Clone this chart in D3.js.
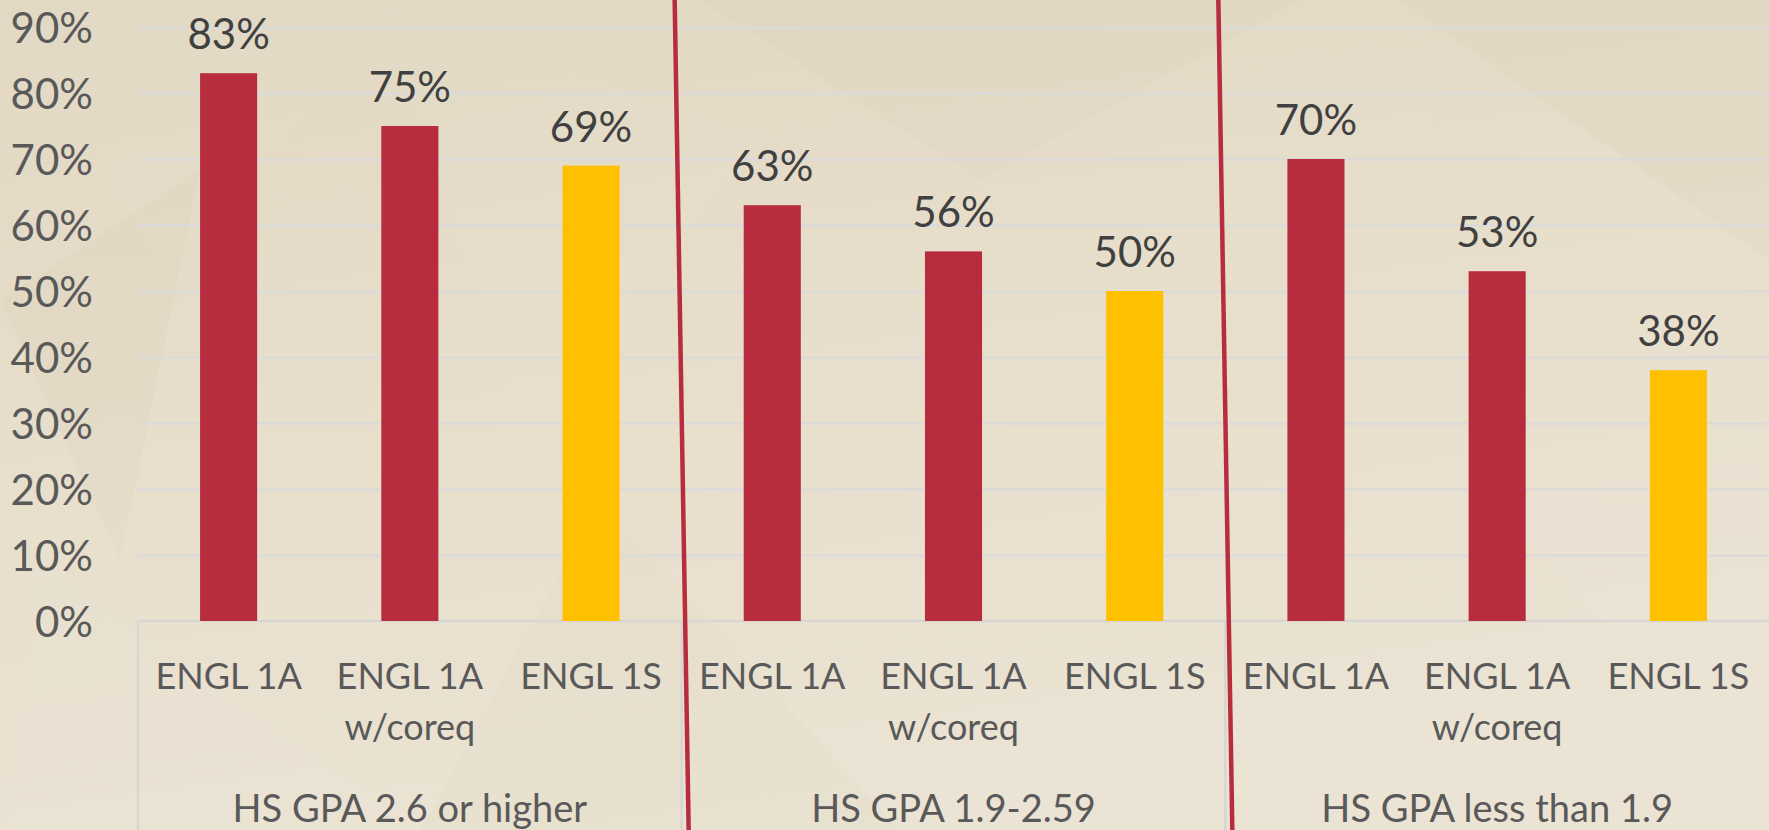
<!DOCTYPE html>
<html>
<head>
<meta charset="utf-8">
<script src="https://cdn.jsdelivr.net/npm/d3@7"></script>
<style>
  html, body { margin: 0; padding: 0; background: #e9e0cf; overflow: hidden; }
  svg { display: block; font-family: Lato, "Open Sans", sans-serif; }
</style>
</head>
<body>
<div class="chart-container"></div>
<script>
// data
const groups = ["HS GPA 2.6 or higher", "HS GPA 1.9-2.59", "HS GPA less than 1.9"];
const courses = ["ENGL 1A", "ENGL 1A w/coreq", "ENGL 1S"];
const courseLines = [["ENGL 1A"], ["ENGL 1A", "w/coreq"], ["ENGL 1S"]];
const gpaHigh = [0.83, 0.75, 0.69];
const gpaMid = [0.63, 0.56, 0.50];
const gpaLow = [0.70, 0.53, 0.38];
const yTicks = [0, 0.1, 0.2, 0.3, 0.4, 0.5, 0.6, 0.7, 0.8, 0.9];
const courseColors = ["#b72d3e", "#b72d3e", "#ffc000"];

const seriesByGroup = [gpaHigh, gpaMid, gpaLow];
const barData = [];
groups.forEach((g, gi) => {
    courses.forEach((c, ci) => {
        barData.push({ group: g, course: c, idx: ci, value: seriesByGroup[gi][ci] });
    });
});

const svg_width = 1769;
const svg_height = 830;
const margin = { top: 27, right: 0, bottom: 209, left: 138 };
const width = svg_width - margin.left - margin.right;
const height = svg_height - margin.top - margin.bottom;

const svg = d3.select('.chart-container').append('svg')
    .attr('width', svg_width).attr('height', svg_height);

//background: beige with faint low-poly texture
const defs = svg.append('defs');
const grad = defs.append('linearGradient').attr('id', 'bg')
    .attr('x1', 0).attr('y1', 0).attr('x2', 0.3).attr('y2', 1);
grad.append('stop').attr('offset', '0%').attr('stop-color', '#e2d8c3');
grad.append('stop').attr('offset', '60%').attr('stop-color', '#e8dfcd');
grad.append('stop').attr('offset', '100%').attr('stop-color', '#ebe3d3');
svg.append('rect').attr('width', svg_width).attr('height', svg_height).attr('fill', 'url(#bg)');

const shards = [
    [[0, 0], [420, 0], [160, 260], 0.03, '#fff'],
    [[0, 300], [200, 170], [120, 560], 0.03, '#a08c66'],
    [[380, 0], [760, 140], [520, 430], 0.03, '#fff'],
    [[700, 0], [1300, 0], [980, 180], 0.025, '#a08c66'],
    [[1080, 120], [1460, 40], [1330, 420], 0.025, '#fff'],
    [[1400, 0], [1769, 0], [1769, 260], 0.03, '#a08c66'],
    [[40, 560], [400, 820], [0, 830], 0.03, '#fff'],
    [[600, 500], [900, 830], [420, 830], 0.02, '#a08c66'],
    [[1500, 500], [1769, 420], [1769, 830], 0.03, '#fff'],
    [[900, 300], [1180, 520], [820, 620], 0.02, '#fff']
];
svg.append('g').attr('class', 'texture').selectAll('path').data(shards).join('path')
    .attr('d', d => `M${d[0]}L${d[1]}L${d[2]}Z`)
    .attr('fill', d => d[4]).attr('fill-opacity', d => d[3]);

const chart = svg.append('g').attr('transform', `translate(${margin.left},${margin.top})`);

//scales
const x0 = d3.scaleBand().domain(groups).range([0, width]);
const x1 = d3.scaleBand().domain(courses).range([0, x0.bandwidth()])
    .paddingInner(0.685).paddingOuter(0.3425);
const y = d3.scaleLinear().domain([0, 0.9]).range([height, 0]);

//gridlines
const grid = chart.append('g').attr('class', 'grid')
    .call(d3.axisLeft(y).tickValues(yTicks.slice(1)).tickSize(-width).tickFormat(''));
grid.select('.domain').remove();
grid.selectAll('line').attr('stroke', '#dcdad8').attr('stroke-width', 2.5);

//y axis labels
const yAxis = chart.append('g').attr('class', 'y axis')
    .call(d3.axisLeft(y).tickValues(yTicks).tickSize(0).tickPadding(45).tickFormat(d3.format('.0%')));
yAxis.select('.domain').remove();
yAxis.selectAll('text').attr('font-size', 42).attr('fill', '#595959')
    .attr('font-family', 'Lato, sans-serif').attr('dy', '0.36em');

//category box
const box = chart.append('g').attr('class', 'cat-box')
    .attr('stroke', '#d8d6d2').attr('stroke-width', 2.5).attr('fill', 'none');
box.append('line').attr('x1', 0).attr('x2', width).attr('y1', height).attr('y2', height);
box.selectAll('.sep').data(groups).join('line').attr('class', 'sep')
    .attr('x1', d => x0(d)).attr('x2', d => x0(d))
    .attr('y1', height).attr('y2', svg_height - margin.top);

//bars
const groupG = chart.selectAll('.grp').data(groups).join('g').attr('class', 'grp')
    .attr('transform', d => `translate(${x0(d)},0)`);

groupG.selectAll('rect').data(g => barData.filter(d => d.group === g)).join('rect')
    .attr('x', d => x1(d.course)).attr('width', x1.bandwidth())
    .attr('y', d => y(d.value)).attr('height', d => y(0) - y(d.value))
    .attr('fill', d => courseColors[d.idx]);

//data labels
groupG.selectAll('.val').data(g => barData.filter(d => d.group === g)).join('text')
    .attr('class', 'val')
    .attr('x', d => x1(d.course) + x1.bandwidth() / 2)
    .attr('y', d => y(d.value) - 24)
    .attr('text-anchor', 'middle').attr('font-size', 42).attr('fill', '#404040')
    .text(d => d3.format('.0%')(d.value));

//course labels
const courseLab = groupG.selectAll('.course').data(courses).join('text')
    .attr('class', 'course')
    .attr('x', d => x1(d) + x1.bandwidth() / 2)
    .attr('y', height + 68)
    .attr('text-anchor', 'middle').attr('font-size', 36).attr('fill', '#595959');
courseLab.selectAll('tspan').data(d => courseLines[courses.indexOf(d)]).join('tspan')
    .attr('x', function () { return this.parentNode.getAttribute('x'); })
    .attr('dy', (d, i) => i === 0 ? 0 : 51)
    .text(d => d);

//group labels
groupG.append('text').attr('class', 'group-label')
    .attr('x', x0.bandwidth() / 2).attr('y', height + 201)
    .attr('text-anchor', 'middle').attr('font-size', 38).attr('fill', '#595959')
    .text(d => d);

//red slanted dividers between groups
const dividers = groups.slice(1);
chart.selectAll('.divider').data(dividers).join('line').attr('class', 'divider')
    .attr('x1', d => x0(d) - 7).attr('y1', -margin.top)
    .attr('x2', d => x0(d) + 7).attr('y2', svg_height - margin.top)
    .attr('stroke', '#b72d3e').attr('stroke-width', 4.5);
</script>
</body>
</html>
